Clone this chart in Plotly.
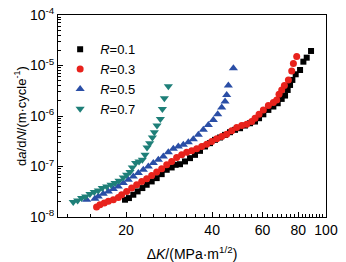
import numpy as np
import plotly.graph_objects as go

# R = 0.1
k_r01 = [19.84, 20.48, 21.21, 21.96, 22.81, 23.62, 24.59, 25.60, 26.65, 27.75, 28.88, 29.82,
         30.88, 32.15, 33.48, 34.85, 36.28, 37.77, 39.32, 40.94, 42.62, 44.38, 46.19, 48.09,
         50.07, 52.12, 54.27, 56.49, 58.34, 60.40, 62.89, 65.47, 67.80, 70.01, 71.92, 73.46,
         74.88, 76.29, 78.36, 81.16, 83.36, 85.62, 88.66]
v_r01 = [2.20e-8, 2.37e-8, 2.76e-8, 3.21e-8, 3.74e-8, 4.35e-8, 5.06e-8, 5.89e-8, 7.06e-8, 8.61e-8,
         9.57e-8, 1.08e-7, 1.11e-7, 1.26e-7, 1.465e-7, 1.70e-7, 2.04e-7, 2.49e-7, 2.90e-7, 3.37e-7,
         3.75e-7, 4.23e-7, 4.78e-7, 5.32e-7, 5.73e-7, 6.47e-7, 7.19e-7, 7.77e-7, 9.04e-7, 1.08e-6,
         1.32e-6, 1.54e-6, 1.79e-6, 2.18e-6, 2.54e-6, 3.28e-6, 4.12e-6, 5.18e-6, 6.70e-6, 8.15e-6,
         1.19e-5, 1.43e-5, 1.94e-5]

# R = 0.3
k_r03 = [15.78, 16.21, 16.79, 17.35, 18.06, 18.80, 19.31, 20.10, 20.93, 21.79, 22.69, 23.62,
         24.59, 25.60, 26.65, 27.75, 28.88, 30.06, 31.30, 32.59, 33.93, 35.32, 36.77, 38.28,
         39.85, 41.49, 43.20, 44.97, 46.82, 48.74, 50.74, 52.82, 55.00, 56.49, 58.34, 60.40,
         62.89, 65.47, 67.25, 68.51, 70.01, 71.54, 73.88, 75.89, 76.91, 79.00]
v_r03 = [1.57e-8, 1.75e-8, 1.89e-8, 2.04e-8, 2.20e-8, 2.44e-8, 2.76e-8, 3.21e-8, 3.74e-8, 4.35e-8,
         5.06e-8, 5.71e-8, 6.65e-8, 7.74e-8, 9.02e-8, 1.08e-7, 1.26e-7, 1.51e-7, 1.70e-7, 1.92e-7,
         2.04e-7, 2.24e-7, 2.49e-7, 2.77e-7, 3.12e-7, 3.53e-7, 3.93e-7, 4.36e-7, 5.08e-7, 5.91e-7,
         6.47e-7, 6.89e-7, 7.77e-7, 9.04e-7, 1.08e-6, 1.32e-6, 1.61e-6, 1.85e-6, 2.08e-6, 2.69e-6,
         3.28e-6, 4.00e-6, 5.18e-6, 7.80e-6, 1.10e-5, 1.50e-5]

# R = 0.5
k_r05 = [14.57, 15.57, 16.00, 16.65, 17.35, 18.06, 18.80, 19.57, 20.37, 21.21, 22.09, 22.99,
         23.94, 24.92, 25.95, 27.01, 28.12, 29.27, 30.47, 31.72, 33.03, 34.38, 35.80, 37.27,
         38.80, 40.39, 41.83, 43.20, 44.38, 44.97, 45.58, 47.46]
v_r05 = [2.20e-8, 2.30e-8, 2.56e-8, 2.89e-8, 3.21e-8, 3.57e-8, 4.04e-8, 4.70e-8, 5.46e-8, 6.35e-8,
         7.40e-8, 8.61e-8, 1.00e-7, 1.17e-7, 1.36e-7, 1.58e-7, 1.92e-7, 2.24e-7, 2.49e-7, 2.69e-7,
         3.03e-7, 3.48e-7, 4.23e-7, 5.32e-7, 6.67e-7, 8.38e-7, 1.08e-6, 1.47e-6, 1.93e-6, 2.61e-6,
         4.00e-6, 8.79e-6]

# R = 0.7
k_r07 = [13.08, 13.55, 13.99, 14.45, 14.96, 15.49, 16.00, 16.52, 17.12, 17.73, 18.31, 18.90,
         19.57, 20.10, 20.65, 21.04, 21.61, 22.21, 22.81, 23.31, 23.69, 24.20, 24.73, 25.12,
         25.67, 26.37, 26.80, 27.23, 28.12]
v_r07 = [1.98e-8, 2.13e-8, 2.37e-8, 2.56e-8, 2.84e-8, 3.12e-8, 3.36e-8, 3.74e-8, 4.04e-8, 4.35e-8,
         4.70e-8, 5.22e-8, 6.07e-8, 6.86e-8, 7.74e-8, 9.57e-8, 1.17e-7, 1.26e-7, 1.36e-7, 1.70e-7,
         2.38e-7, 2.90e-7, 3.75e-7, 4.78e-7, 6.47e-7, 8.77e-7, 1.38e-6, 2.25e-6, 3.87e-6]

series_names = ["<i>R</i>=0.1", "<i>R</i>=0.3", "<i>R</i>=0.5", "<i>R</i>=0.7"]
x_ticks = [20, 40, 60, 80, 100]
x_tick_labels = ["20", "40", "60", "80", "100"]
y_ticks = [1e-8, 1e-7, 1e-6, 1e-5, 1e-4]
y_tick_labels = ["10<sup>-8</sup>", "10<sup>-7</sup>", "10<sup>-6</sup>", "10<sup>-5</sup>", "10<sup>-4</sup>"]

styles = [
    dict(symbol="square", color="#000000", size=6),
    dict(symbol="circle", color="#e8221c", size=7),
    dict(symbol="triangle-up", color="#2a4ea6", size=8),
    dict(symbol="triangle-down", color="#1e7f78", size=8),
]

fig = go.Figure()
for name, kx, vy, st in zip(series_names, [k_r01, k_r03, k_r05, k_r07],
                            [v_r01, v_r03, v_r05, v_r07], styles):
    fig.add_trace(go.Scatter(x=kx, y=vy, mode="markers", name=name, cliponaxis=False,
                             marker=dict(symbol=st["symbol"], color=st["color"], size=st["size"],
                                         line=dict(width=0))))

x_minor = [v for v in np.arange(12.5, 100, 2.5) if v not in x_ticks]
y_minor = [m * 10.0 ** e for e in range(-8, -4) for m in range(2, 10)]

font = "Liberation Sans, Arial, sans-serif"
# page body has an 8px default margin, so the figure is sized to fit the window
fig.update_layout(
    width=338, height=254,
    margin=dict(l=50, r=20, t=7, b=45),
    paper_bgcolor="white", plot_bgcolor="white",
    font=dict(family=font, size=14, color="black"),
    showlegend=True,
    legend=dict(x=0.008, y=0.905, xanchor="left", yanchor="top", bgcolor="rgba(0,0,0,0)",
                font=dict(size=13), tracegroupgap=0, itemwidth=30),
    xaxis=dict(type="log", range=[np.log10(11.57), 2.0], showline=True, linecolor="black",
               linewidth=1, mirror=True, ticks="inside", ticklen=5, tickcolor="black",
               tickmode="array", tickvals=x_ticks, ticktext=x_tick_labels,
               showgrid=False, zeroline=False,
               tickfont=dict(size=14), automargin=False, ticklabeloverflow="allow",
               minor=dict(tickvals=x_minor, ticks="inside", ticklen=3, tickcolor="black",
                          showgrid=False),
               title=dict(text="Δ<i>K</i>/(MPa·m<sup>1/2</sup>)", font=dict(size=14), standoff=13)),
    yaxis=dict(type="log", range=[-8, -4], showline=True, linecolor="black", linewidth=1,
               mirror=True, ticks="inside", ticklen=5, tickcolor="black",
               tickmode="array", tickvals=y_ticks, ticktext=y_tick_labels,
               showgrid=False, zeroline=False,
               tickfont=dict(size=14), automargin=False, ticklabeloverflow="allow",
               minor=dict(tickvals=y_minor, ticks="inside", ticklen=3, tickcolor="black",
                          showgrid=False),
               title=dict(text="d<i>a</i>/d<i>N</i>/(m·cycle<sup>-1</sup>)", font=dict(size=13),
                          standoff=0)),
)

fig.write_html("out.html")
